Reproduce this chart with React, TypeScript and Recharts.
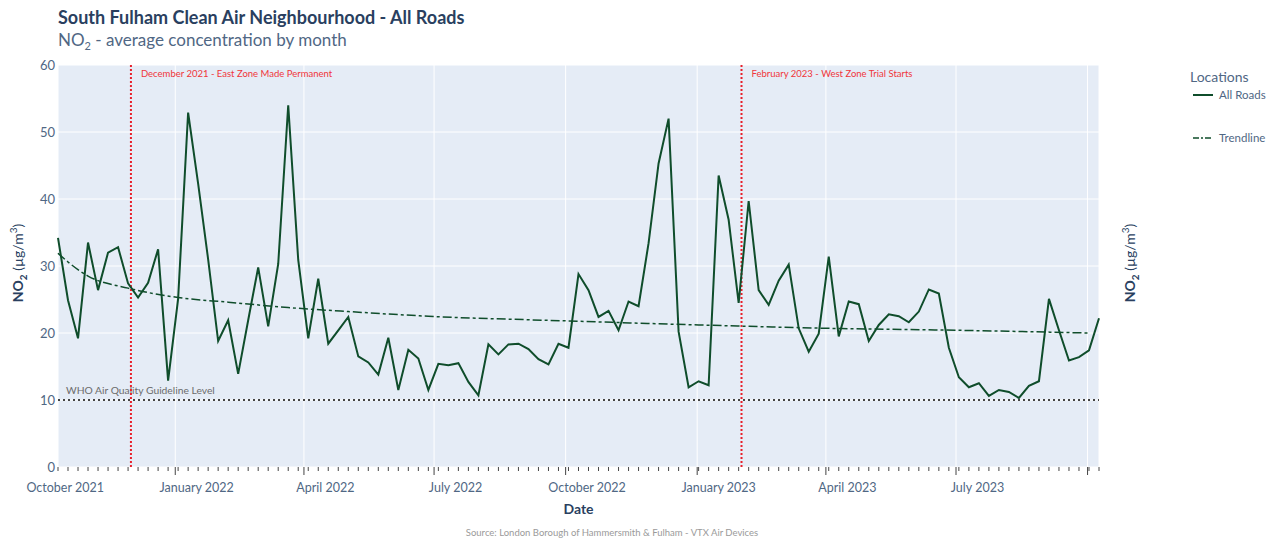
import React from "react";
import { ComposedChart, Line, XAxis, YAxis, CartesianGrid, ReferenceLine } from "recharts";

const DAY = 86400000;
const firstWeek = Date.UTC(2021, 9, 11);

// weekly NO2 average, all roads
const no2Values = [
  34.2, 24.9, 19.2, 33.5, 26.4, 32.0, 32.8, 27.4, 25.3, 27.5,
  32.5, 12.9, 25.1, 52.9, 42.3, 31.0, 18.8, 21.9, 13.9, 21.9,
  29.8, 21.0, 30.3, 54.0, 30.9, 19.2, 28.1, 18.4, 20.4, 22.4,
  16.5, 15.6, 13.8, 19.3, 11.5, 17.5, 16.2, 11.5, 15.4, 15.2,
  15.5, 12.7, 10.7, 18.3, 16.8, 18.3, 18.4, 17.6, 16.1, 15.3,
  18.4, 17.8, 28.8, 26.4, 22.4, 23.3, 20.4, 24.7, 24.0, 33.4,
  45.3, 52.0, 20.2, 11.9, 12.8, 12.2, 43.5, 36.9, 24.5, 39.7,
  26.4, 24.2, 27.8, 30.2, 20.7, 17.2, 19.9, 31.4, 19.5, 24.7,
  24.3, 18.8, 21.2, 22.8, 22.5, 21.6, 23.2, 26.5, 25.9, 17.8,
  13.4, 11.9, 12.5, 10.6, 11.5, 11.2, 10.3, 12.1, 12.8, 25.1,
  20.4, 15.9, 16.4, 17.4, 22.2,
];

// trendline read at a few weeks
const trendWeeks = [0, 1, 3, 7, 12, 17, 23, 29, 37, 51, 64, 77, 90, 103];
const trendValues = [31.9, 30.6, 28.5, 26.7, 25.3, 24.6, 23.8, 23.2, 22.5, 21.8, 21.2, 20.7, 20.4, 20.0];

const yTicks = [0, 10, 20, 30, 40, 50, 60];

const monthStarts = [
  Date.UTC(2022, 0, 1), Date.UTC(2022, 3, 1), Date.UTC(2022, 6, 1), Date.UTC(2022, 9, 1),
  Date.UTC(2023, 0, 1), Date.UTC(2023, 3, 1), Date.UTC(2023, 6, 1), Date.UTC(2023, 9, 1),
];
const monthLabels = ["October 2021", "January 2022", "April 2022", "July 2022", "October 2022", "January 2023", "April 2023", "July 2023"];
const monthLabelDates = [
  Date.UTC(2021, 9, 16), Date.UTC(2022, 0, 16), Date.UTC(2022, 3, 16), Date.UTC(2022, 6, 16),
  Date.UTC(2022, 9, 16), Date.UTC(2023, 0, 16), Date.UTC(2023, 3, 16), Date.UTC(2023, 6, 16),
];

const eventDates = [Date.UTC(2021, 11, 1), Date.UTC(2023, 1, 1)];
const eventTexts = ["December 2021 - East Zone Made Permanent", "February 2023 - West Zone Trial Starts"];
const whoLevel = 10;

const data = no2Values.map((v, i) => {
  const t = trendWeeks.indexOf(i);
  return { date: firstWeek + i * 7 * DAY, value: v, trend: t >= 0 ? trendValues[t] : null };
});
const weekTicks = data.map((d) => d.date);
const domain = [data[0].date, data[data.length - 1].date];

const FONT = "Lato, 'Open Sans', sans-serif";
const GREEN = "#0f4d2b";
const AXIS_TEXT = "#506784";
const PLOT_BOTTOM = 467;

// axes are 1px high each, so ticks are drawn from the plot bottom
const MajorTick = (props: any) => (
  <line x1={props.x} x2={props.x} y1={PLOT_BOTTOM} y2={PLOT_BOTTOM + 8} stroke="#444" strokeWidth={1} />
);
const MinorTick = (props: any) => (
  <line x1={props.x} x2={props.x} y1={PLOT_BOTTOM} y2={PLOT_BOTTOM + 4} stroke="#444" strokeWidth={1} />
);
const LabelTick = (props: any) => {
  const i = monthLabelDates.indexOf(props.payload.value);
  return (
    <text x={props.x} y={PLOT_BOTTOM + 25} textAnchor="middle" fontSize={12.5} fill={AXIS_TEXT} fontFamily={FONT}>
      {monthLabels[i]}
    </text>
  );
};

const eventLabel = (text: string) => (props: any) => (
  <text x={props.viewBox.x + 10} y={props.viewBox.y + 12} fontSize={9.5} fill="#f0353a" fontFamily={FONT}>
    {text}
  </text>
);

const whoLabel = (props: any) => (
  <text x={props.viewBox.x + 8} y={props.viewBox.y - 6} fontSize={10.3} fill="#6b6b6b" fontFamily={FONT}>
    WHO Air Quality Guideline Level
  </text>
);

const axisTitle = (
  <>
    <b>
      NO<sub style={{ fontSize: 10 }}>2</sub>
    </b>{" "}
    (µg/m<sup style={{ fontSize: 10 }}>3</sup>)
  </>
);

export default function App() {
  return (
    <div style={{ position: "relative", width: 1268, height: 538, fontFamily: FONT, background: "#fff" }}>
      <style>{"body{margin:0}"}</style>
      <ComposedChart width={1268} height={538} data={data} margin={{ top: 65, right: 129, bottom: 68, left: 18 }}>
        <CartesianGrid xAxisId="date" yAxisId="left" fill="#e5ecf6" stroke="#ffffff" strokeWidth={1} />
        <XAxis
          xAxisId="week"
          dataKey="date"
          type="number"
          domain={domain}
          ticks={weekTicks}
          interval={0}
          height={1}
          tickSize={0}
          tickMargin={0}
          axisLine={false}
          tickLine={false}
          tick={<MinorTick />}
        />
        <XAxis
          xAxisId="label"
          dataKey="date"
          type="number"
          domain={domain}
          ticks={monthLabelDates}
          interval={0}
          height={1}
          tickSize={0}
          tickMargin={0}
          axisLine={false}
          tickLine={false}
          tick={<LabelTick />}
        />
        <XAxis
          xAxisId="date"
          dataKey="date"
          type="number"
          domain={domain}
          ticks={monthStarts}
          interval={0}
          height={1}
          tickSize={0}
          tickMargin={0}
          axisLine={false}
          tickLine={false}
          tick={<MajorTick />}
        />
        <YAxis
          yAxisId="left"
          domain={[0, 60]}
          ticks={yTicks}
          width={40}
          tickSize={0}
          tickMargin={3}
          axisLine={false}
          tickLine={false}
          tick={{ fontSize: 13, fill: AXIS_TEXT, fontFamily: FONT }}
        />
        <YAxis
          yAxisId="right"
          orientation="right"
          domain={[0, 60]}
          ticks={yTicks}
          width={40}
          tickSize={0}
          tickMargin={2}
          axisLine={false}
          tickLine={false}
          tick={{ fontSize: 13, fill: AXIS_TEXT, fontFamily: FONT }}
        />
        <ReferenceLine
          xAxisId="date"
          yAxisId="left"
          y={whoLevel}
          stroke="#444"
          strokeWidth={2}
          strokeDasharray="2 3"
          label={whoLabel}
        />
        {eventDates.map((d, i) => (
          <ReferenceLine
            key={i}
            xAxisId="date"
            yAxisId="left"
            x={d}
            stroke="#e8202a"
            strokeWidth={2}
            strokeDasharray="2 2"
            label={eventLabel(eventTexts[i])}
          />
        ))}
        <Line
          xAxisId="date"
          yAxisId="left"
          dataKey="trend"
          type="monotone"
          connectNulls
          stroke={GREEN}
          strokeWidth={1.5}
          strokeDasharray="9 3 3 3"
          dot={false}
          isAnimationActive={false}
        />
        <Line
          xAxisId="date"
          yAxisId="left"
          dataKey="value"
          type="linear"
          stroke={GREEN}
          strokeWidth={2}
          dot={false}
          isAnimationActive={false}
        />
      </ComposedChart>

      <div style={{ position: "absolute", left: 58, top: 6, fontSize: 18, fontWeight: 700, color: "#2a3f5f", whiteSpace: "nowrap" }}>
        South Fulham Clean Air Neighbourhood - All Roads
      </div>
      <div style={{ position: "absolute", left: 58, top: 29, fontSize: 17, color: AXIS_TEXT, whiteSpace: "nowrap" }}>
        NO<sub style={{ fontSize: 11 }}>2</sub> - average concentration by month
      </div>

      <div
        style={{
          position: "absolute", left: 18, top: 263, transform: "translate(-50%, -50%) rotate(-90deg)",
          fontSize: 14, color: "#2a3f5f", whiteSpace: "nowrap",
        }}
      >
        {axisTitle}
      </div>
      <div
        style={{
          position: "absolute", left: 1130, top: 263, transform: "translate(-50%, -50%) rotate(-90deg)",
          fontSize: 14, color: "#2a3f5f", whiteSpace: "nowrap",
        }}
      >
        {axisTitle}
      </div>

      <div style={{ position: "absolute", left: 0, width: 1157, top: 500, textAlign: "center", fontSize: 14, fontWeight: 700, color: "#2a3f5f" }}>
        Date
      </div>
      <div style={{ position: "absolute", left: 0, width: 1224, top: 527, textAlign: "center", fontSize: 9.5, color: "#9a9a9a" }}>
        Source: London Borough of Hammersmith &amp; Fulham - VTX Air Devices
      </div>

      <div style={{ position: "absolute", left: 1190, top: 68, fontSize: 14, color: AXIS_TEXT }}>Locations</div>
      <div style={{ position: "absolute", left: 1192, top: 88, display: "flex", alignItems: "center", fontSize: 11.5, color: AXIS_TEXT }}>
        <svg width={24} height={12}>
          <line x1={1} x2={21} y1={6} y2={6} stroke={GREEN} strokeWidth={2} />
        </svg>
        <span style={{ marginLeft: 3 }}>All Roads</span>
      </div>
      <div style={{ position: "absolute", left: 1192, top: 131, display: "flex", alignItems: "center", fontSize: 11.5, color: AXIS_TEXT }}>
        <svg width={24} height={12}>
          <line x1={1} x2={21} y1={6} y2={6} stroke={GREEN} strokeWidth={1.5} strokeDasharray="6 2 2 2" />
        </svg>
        <span style={{ marginLeft: 3 }}>Trendline</span>
      </div>
    </div>
  );
}
